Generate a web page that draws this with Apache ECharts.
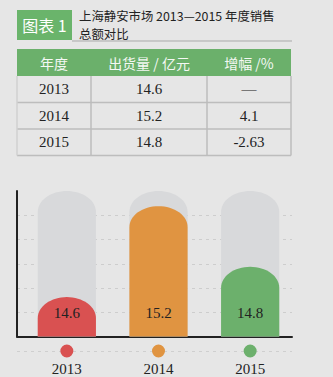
<!DOCTYPE html>
<html>
<head>
<meta charset="utf-8">
<script src="https://cdn.jsdelivr.net/npm/echarts@6/dist/echarts.min.js"></script>
<style>
  html, body { margin: 0; padding: 0; background: #e6e6e6; }
  #chart { width: 333px; height: 377px; }
</style>
</head>
<body>
<div id="chart"></div>
<script>
// ---- data ----
const years = ['2013', '2014', '2015'];
const sales = [14.6, 15.2, 14.8];
const growth = ['—', '4.1', '-2.63'];
const tableHead = ['年度', '出货量 / 亿元', '增幅 /%'];
const figTag = '图表 1';
const titleLines = ['上海静安市场 2013—2015 年度销售', '总额对比'];

// ---- style ----
const barColors = ['#d95151', '#e09441', '#6cb06c'];
const trackColor = '#d8d9db';
const green = '#6bb06b';
const serif = '"Liberation Serif", "DejaVu Serif", serif';
const sans = '"Noto Sans CJK SC", "Noto Sans", sans-serif';
const yMin = 14.34, yMax = 15.3;

// table layout
const colX = [17, 91, 207, 291];
const rowY = [49, 76, 102.5, 129, 155.5];

const graphics = [];
// figure tag + two-line title
graphics.push({ type: 'rect', shape: { x: 17, y: 10, width: 55, height: 30 }, style: { fill: '#6ab46b' } });
graphics.push({ type: 'text', x: 44.5, y: 25, style: { text: figTag, fill: '#ffffff', font: '16px ' + sans, align: 'center', verticalAlign: 'middle' } });
titleLines.forEach((t, i) => {
  graphics.push({ type: 'text', x: 79, y: 15.8 + i * 18, style: { text: t, fill: '#222', font: '12.4px ' + sans, align: 'left', verticalAlign: 'middle' } });
});
graphics.push({ type: 'line', shape: { x1: 72, y1: 41, x2: 292, y2: 41 }, style: { stroke: '#a9a9a9', lineWidth: 1 } });

// table header
graphics.push({ type: 'rect', shape: { x: colX[0], y: rowY[0], width: colX[3] - colX[0], height: rowY[1] - rowY[0] }, style: { fill: green } });
tableHead.forEach((h, c) => {
  graphics.push({ type: 'text', x: (colX[c] + colX[c + 1]) / 2, y: (rowY[0] + rowY[1]) / 2, style: { text: h, fill: '#f4f8f4', font: '14px ' + sans, align: 'center', verticalAlign: 'middle' } });
});
// table body
const rows = years.map((y, i) => [y, sales[i].toFixed(1), growth[i]]);
rows.forEach((r, ri) => {
  r.forEach((cell, c) => {
    graphics.push({ type: 'text', x: (colX[c] + colX[c + 1]) / 2, y: (rowY[ri + 1] + rowY[ri + 2]) / 2, style: { text: cell, fill: '#222', font: '15px ' + serif, align: 'center', verticalAlign: 'middle' } });
  });
  graphics.push({ type: 'line', shape: { x1: colX[0], y1: rowY[ri + 2], x2: colX[3], y2: rowY[ri + 2] }, style: { stroke: '#bdbdbd', lineWidth: 1.5 } });
});
colX.forEach((x, c) => {
  graphics.push({ type: 'line', shape: { x1: x, y1: rowY[1], x2: x, y2: rowY[4] }, style: { stroke: c === 0 ? '#d0d0d0' : '#bdbdbd', lineWidth: 1.5 } });
});
// dashed baseline under the category markers
graphics.push({ type: 'line', z: -1, shape: { x1: 17, y1: 351.5, x2: 292, y2: 351.5 }, style: { stroke: '#cfcfcf', lineWidth: 1, lineDash: [3, 4] } });

// rich styles for category markers
const rich = { yr: { fontFamily: serif, fontSize: 15, color: '#222', lineHeight: 20, padding: [2, 0, 0, 0] } };
years.forEach((y, i) => {
  rich['d' + i] = { width: 13, height: 13, borderRadius: 6.5, backgroundColor: barColors[i] };
});

// capsule-shaped bar: straight sides with an elliptical dome on top
function dome(cx, halfW, ry, topY, baseY) {
  const r = Math.min(ry, baseY - topY);
  const yc = topY + r;
  const pts = [[cx - halfW, baseY]];
  const n = 32;
  for (let k = 0; k <= n; k++) {
    const t = Math.PI - (Math.PI * k) / n;
    pts.push([cx + halfW * Math.cos(t), yc - r * Math.sin(t)]);
  }
  pts.push([cx + halfW, baseY]);
  return pts;
}

function renderBar(params, api) {
  const i = api.value(0);
  const v = api.value(1);
  const base = api.coord([i, yMin]);
  const top = api.coord([i, v]);
  const full = api.coord([i, yMax]);
  const halfW = api.size([1, 0])[0] * 0.635 / 2;
  const ry = 21;
  return {
    type: 'group',
    children: [
      { type: 'polygon', shape: { points: dome(base[0], halfW, ry, full[1], base[1]) }, style: { fill: trackColor } },
      { type: 'polygon', shape: { points: dome(base[0], halfW, ry, top[1], base[1]) }, style: { fill: barColors[i] } },
      { type: 'text', x: base[0], y: base[1] - 24, style: { text: v.toFixed(1), fill: '#222', font: '15px ' + serif, align: 'center', verticalAlign: 'middle' } }
    ]
  };
}

const chart = echarts.init(document.getElementById('chart'), null, { renderer: 'svg' });
chart.setOption({
  animation: false,
  backgroundColor: '#e6e6e6',
  graphic: graphics,
  grid: [
    { left: 17, right: 41, top: 191, bottom: 40.5 },
    { left: 21, right: 37, top: 191, bottom: 40.5 }
  ],
  xAxis: [
    { gridIndex: 0, type: 'category', data: years, axisLine: { lineStyle: { color: '#222', width: 2 } }, axisTick: { show: false }, axisLabel: { show: false }, splitLine: { show: false } },
    {
      gridIndex: 1, type: 'category', data: years,
      axisLine: { show: false }, axisTick: { show: false },
      axisLabel: {
        margin: 8,
        formatter: (val, idx) => '{d' + idx + '| }\n{yr|' + val + '}',
        rich: rich
      }
    }
  ],
  yAxis: [
    {
      gridIndex: 0, type: 'value', min: 0, max: 6, interval: 1,
      axisLine: { show: true, lineStyle: { color: '#222', width: 2 } },
      axisTick: { show: false }, axisLabel: { show: false },
      splitLine: { show: true, lineStyle: { color: ['#cdcdcd', '#cdcdcd', '#cdcdcd', '#cdcdcd', '#cdcdcd', '#cdcdcd', 'rgba(0,0,0,0)'], type: [3, 4], width: 1 } }
    },
    { gridIndex: 1, type: 'value', min: yMin, max: yMax, show: false }
  ],
  series: [{
    type: 'custom',
    xAxisIndex: 1,
    yAxisIndex: 1,
    renderItem: renderBar,
    encode: { x: 0, y: 1 },
    data: sales.map((v, i) => [i, v]),
    z: 3
  }]
});
</script>
</body>
</html>
